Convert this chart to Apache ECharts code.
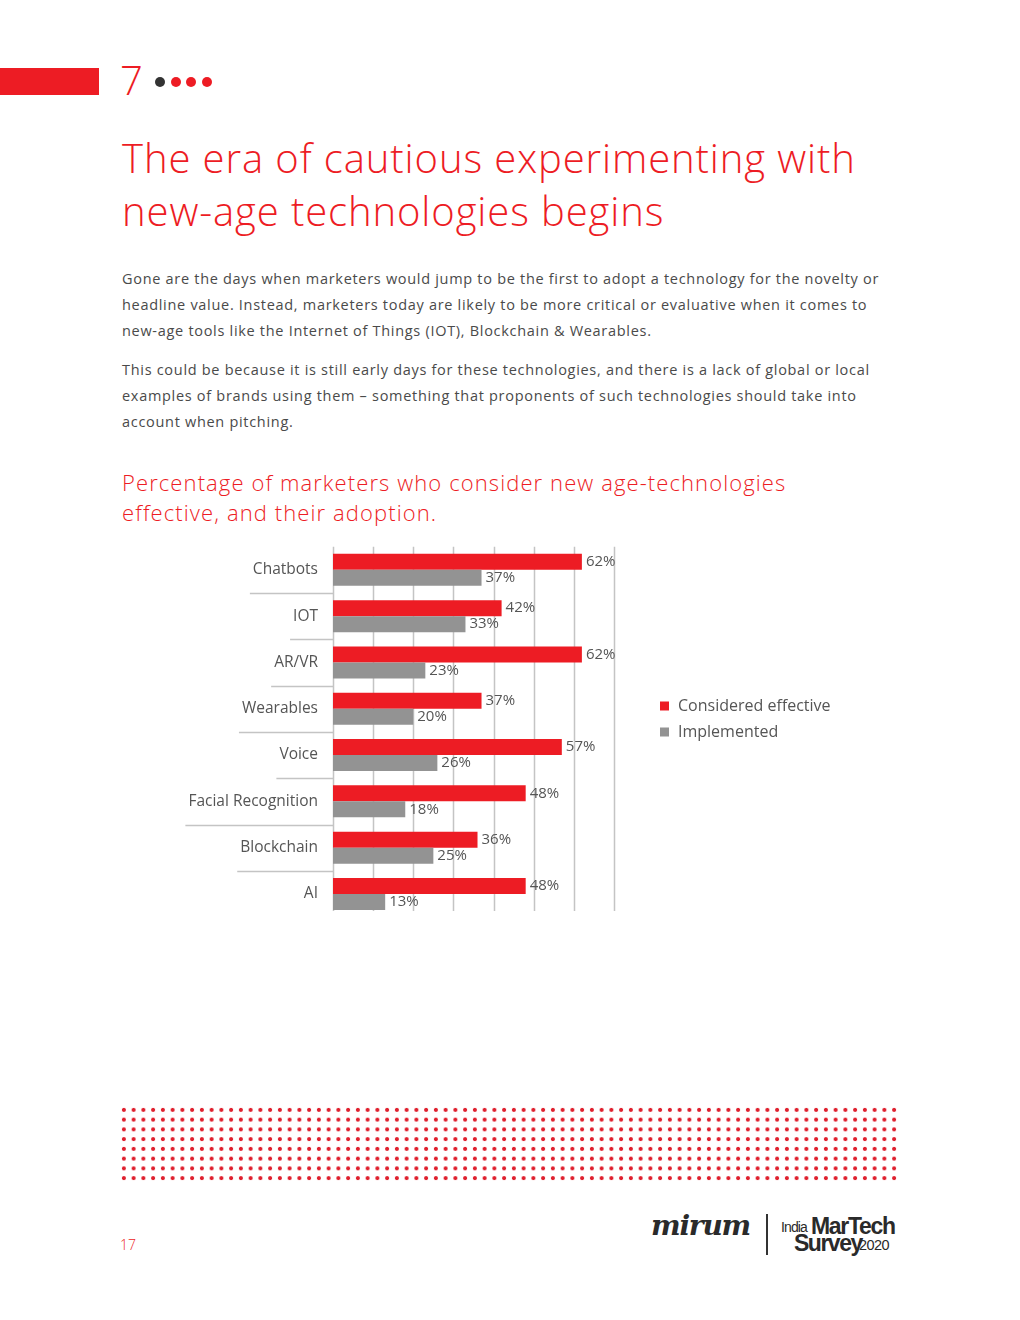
<!DOCTYPE html>
<html>
<head>
<meta charset="utf-8">
<script src="https://cdn.jsdelivr.net/npm/echarts@6/dist/echarts.min.js"></script>
<style>
  html, body { margin:0; padding:0; background:#fff; }
  #page { position:relative; width:1020px; height:1320px; overflow:hidden; font-family:"Open Sans", sans-serif; }
  .abs { position:absolute; }
  #title { left:122px; top:131px; font-size:40px; line-height:53px; font-weight:300; color:#ed1c24; white-space:nowrap; letter-spacing:0.9px; }
  .para { left:122px; font-size:14.5px; line-height:26px; color:#4a4a4a; white-space:nowrap; letter-spacing:0.7px; }
  #sub { left:122px; top:467px; font-size:22px; line-height:30px; color:#ed1c24; white-space:nowrap; letter-spacing:1.1px; font-weight:300; }
  .dot { position:absolute; width:10px; height:10px; border-radius:50%; top:77px; background:#ed1c24; }
  #dots { left:119px; top:1105px; width:780px; height:78px;
    background-image: radial-gradient(circle at center, #df1f2d 0, #df1f2d 1.7px, rgba(255,255,255,0) 2.3px);
    background-size: 9.75px 9.75px; }
  #chart { left:0; top:530px; width:1020px; height:400px; }
  .logo { font-family:'Liberation Sans Narrow','Liberation Sans',sans-serif; color:#2a2a2a; }
</style>
</head>
<body>
<div id="page">
  <div class="abs" style="left:0;top:68px;width:99px;height:27px;background:#ed1c24;"></div>
  <div class="abs" style="left:120px;top:55px;font-size:40px;line-height:50px;font-weight:300;color:#ed1c24;">7</div>
  <div class="dot" style="left:155px;background:#333;"></div>
  <div class="dot" style="left:171px;"></div>
  <div class="dot" style="left:186px;"></div>
  <div class="dot" style="left:202px;"></div>

  <div id="title" class="abs">The era of cautious experimenting with<br>new-age technologies begins</div>

  <div class="abs para" style="top:266px;">Gone are the days when marketers would jump to be the first to adopt a technology for the novelty or<br>headline value. Instead, marketers today are likely to be more critical or evaluative when it comes to<br>new-age tools like the Internet of Things (IOT), Blockchain &amp; Wearables.</div>
  <div class="abs para" style="top:357px;">This could be because it is still early days for these technologies, and there is a lack of global or local<br>examples of brands using them – something that proponents of such technologies should take into<br>account when pitching.</div>

  <div id="sub" class="abs">Percentage of marketers who consider new age-technologies<br>effective, and their adoption.</div>

  <div id="chart" class="abs"></div>

  <div id="dots" class="abs"></div>

  <div class="abs" style="left:120px;top:1235px;font-size:14px;color:#ed1c24;font-weight:300;">17</div>

  <div class="abs" style="left:651px;top:1209px;font-family:'DejaVu Serif',serif;font-style:italic;font-weight:bold;font-size:28px;color:#2a2a2a;letter-spacing:-1.2px;">mirum</div>
  <div class="abs" style="left:766px;top:1214px;width:2px;height:41px;background:#333;"></div>
  <div class="abs logo" style="left:781px;top:1219px;font-size:14px;letter-spacing:-0.9px;">India</div>
  <div class="abs logo" style="left:811px;top:1213px;font-weight:bold;font-size:23px;letter-spacing:-1.3px;">MarTech</div>
  <div class="abs logo" style="left:794px;top:1230px;font-weight:bold;font-size:23px;letter-spacing:-1.5px;">Survey</div>
  <div class="abs logo" style="left:859px;top:1237px;font-size:14.5px;letter-spacing:-0.6px;">2020</div>
</div>

<script>
const categories = ['Chatbots', 'IOT', 'AR/VR', 'Wearables', 'Voice', 'Facial Recognition', 'Blockchain', 'AI'];
const consideredEffective = [62, 42, 62, 37, 57, 48, 36, 48];
const implemented = [37, 33, 23, 20, 26, 18, 25, 13];
const seriesNames = ['Considered effective', 'Implemented'];
const axisTicks = [0, 10, 20, 30, 40, 50, 60, 70];

const RED = '#ed1c24', GRAY = '#939393', TEXT = '#555555', LINE = '#c4c4c4';
const LABEL_FONT = 15.5, LABEL_MARGIN = 15;
const GRID_TOP = 16.7, GRID_H = 370.4, LINE_SHORT = 6;

const chart = echarts.init(document.getElementById('chart'), null, { renderer: 'canvas' });

const valueLabel = {
  show: true, position: 'right', distance: 4,
  formatter: p => p.value + '%',
  color: TEXT, fontSize: 15, fontFamily: 'Open Sans'
};

chart.setOption({
  animation: false,
  grid: { left: 333, top: GRID_TOP, width: 281, height: GRID_H },
  legend: {
    orient: 'vertical', left: 655, top: 163,
    itemWidth: 9, itemHeight: 9, itemGap: 10, icon: 'rect',
    textStyle: { color: TEXT, fontSize: 16, lineHeight: 16, fontFamily: 'Open Sans', padding: [0, 0, 0, 4] },
    data: seriesNames
  },
  xAxis: {
    type: 'value', min: 0, max: 70, interval: 10,
    axisLabel: { show: false }, axisLine: { show: false }, axisTick: { show: false },
    splitLine: { show: false }
  },
  yAxis: {
    type: 'category', data: categories, inverse: true,
    axisLine: { show: false },
    axisTick: { show: false },
    axisLabel: { color: TEXT, fontSize: LABEL_FONT, fontFamily: 'Open Sans', margin: LABEL_MARGIN }
  },
  series: [
    { name: seriesNames[0], type: 'bar', data: consideredEffective, barWidth: 16, barGap: '0%',
      itemStyle: { color: RED }, label: valueLabel, z: 3 },
    { name: seriesNames[1], type: 'bar', data: implemented, barWidth: 16, barGap: '0%',
      itemStyle: { color: GRAY }, label: valueLabel, z: 3 }
  ]
});

const graphics = [];
// vertical grid lines (stop a little short of the plot bottom, as in the original)
const yTop = GRID_TOP, yBot = GRID_TOP + GRID_H - LINE_SHORT;
axisTicks.forEach(v => {
  const x = Math.round(chart.convertToPixel({ xAxisIndex: 0 }, v)) + 0.5;
  graphics.push({ type: 'line', z: 1, silent: true,
    shape: { x1: x, y1: yTop, x2: x, y2: yBot },
    style: { stroke: LINE, lineWidth: 1.5 } });
});
// separators under each category label, as wide as the label above them
const ctx = document.createElement('canvas').getContext('2d');
ctx.font = LABEL_FONT + 'px "Open Sans"';
const axisX = chart.convertToPixel({ xAxisIndex: 0 }, 0);
for (let i = 0; i < categories.length - 1; i++) {
  const y0 = chart.convertToPixel({ yAxisIndex: 0 }, categories[i]);
  const y1 = chart.convertToPixel({ yAxisIndex: 0 }, categories[i + 1]);
  const yb = Math.round((y0 + y1) / 2) + 0.5;
  const w = ctx.measureText(categories[i]).width;
  const x0 = axisX - LABEL_MARGIN - w - 3;
  graphics.push({ type: 'line', z: 1, silent: true,
    shape: { x1: x0, y1: yb, x2: axisX, y2: yb },
    style: { stroke: LINE, lineWidth: 1.5 } });
}
chart.setOption({ graphic: graphics });
</script>
</body>
</html>
